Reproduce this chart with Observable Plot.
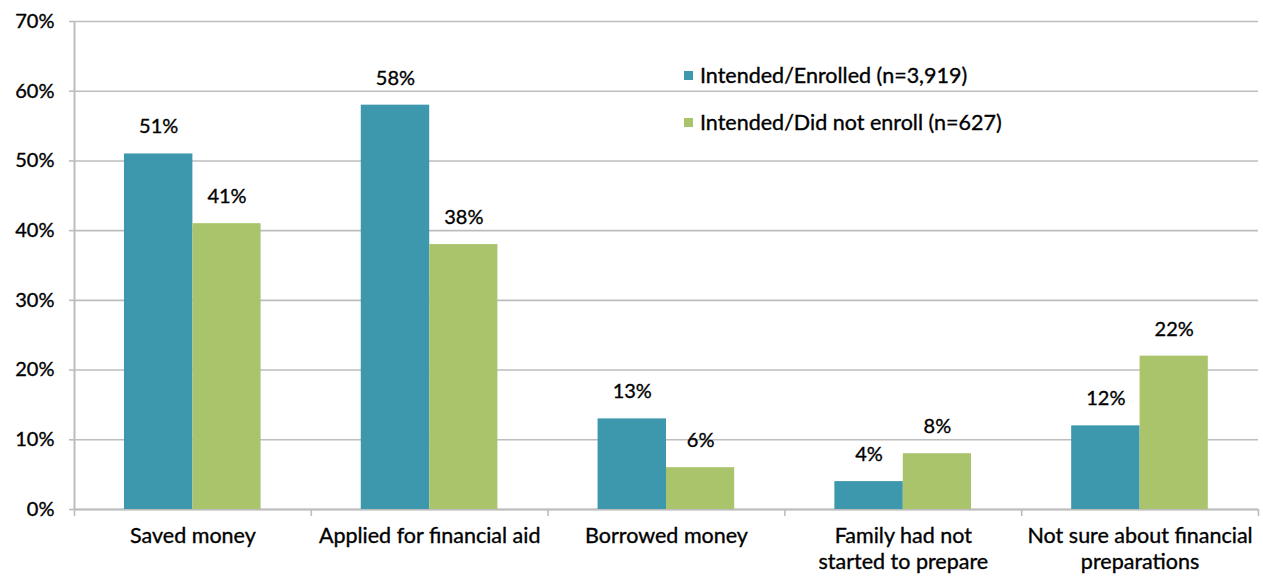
<!DOCTYPE html>
<html>
<head>
<meta charset="utf-8">
<script src="https://cdn.jsdelivr.net/npm/d3@7"></script>
<script src="https://cdn.jsdelivr.net/npm/@observablehq/plot@0.6"></script>
<style>
  html, body { margin: 0; padding: 0; background: #fff; }
  #wrap { position: relative; width: 1263px; height: 576px; font-family: Lato, "Open Sans", sans-serif; }
  #wrap svg text { stroke: #000; stroke-width: 0.35px; }
  .legend { position: absolute; left: 684px; top: 59px; font-size: 21.5px; color: #000; -webkit-text-stroke: 0.35px #000; }
  .legend .item { display: flex; align-items: center; height: 32px; margin-bottom: 15px; }
  .legend .sw { width: 9px; height: 9px; margin-right: 7px; }
</style>
</head>
<body>
<div id="wrap"></div>
<script>
const categories = ["Saved money", "Applied for financial aid", "Borrowed money", "Family had not\nstarted to prepare", "Not sure about financial\npreparations"];
const seriesNames = ["Intended/Enrolled (n=3,919)", "Intended/Did not enroll (n=627)"];
const enrolled = [51, 58, 13, 4, 12];
const notEnrolled = [41, 38, 6, 8, 22];
const yTicks = [0, 10, 20, 30, 40, 50, 60, 70];
const colors = ["#3D98AE", "#A9C46B"];

const rows = [];
categories.forEach((c, i) => {
  rows.push({cat: c, i, s: 0, value: enrolled[i]});
  rows.push({cat: c, i, s: 1, value: notEnrolled[i]});
});
// bar offsets within each category slot
const left = 0.211, mid = 0.5, right = 0.788;
const x1 = d => d.i + (d.s === 0 ? left : mid);
const x2 = d => d.i + (d.s === 0 ? mid : right);
const xc = d => (x1(d) + x2(d)) / 2;

const font = 'Lato, "Open Sans", sans-serif';
const chart = Plot.plot({
  width: 1263,
  height: 576,
  marginLeft: 74,
  marginRight: 5,
  marginTop: 21,
  marginBottom: 67,
  style: {fontFamily: font, fontSize: "19px", color: "#000", background: "#fff"},
  x: {type: "linear", domain: [0, categories.length], axis: null},
  y: {type: "linear", domain: [0, 70], axis: null},
  marks: [
    Plot.gridY(yTicks, {stroke: "#BDBDBD", strokeOpacity: 1, strokeWidth: 1.6}),
    Plot.ruleX([0], {stroke: "#BDBDBD", strokeWidth: 2}),
    Plot.ruleY([0], {stroke: "#BDBDBD", strokeWidth: 2}),
    Plot.axisY(yTicks, {tickSize: 5, tickFormat: d => d + "%", stroke: "#BDBDBD", strokeWidth: 1.6, tickPadding: 15, fontSize: 20, fill: "#000", label: null}),
    Plot.axisX(d3.range(categories.length + 1), {tickSize: 7, tickFormat: () => "", stroke: "#BDBDBD", strokeWidth: 1.6, label: null}),
    Plot.rectY(rows, {x1, x2, y1: 0, y2: "value", fill: d => colors[d.s]}),
    Plot.text(rows, {x: xc, y: "value", text: d => d.value + "%", dy: -27, fontSize: 20, fill: "#000"}),
    Plot.text(categories, {x: (d, i) => i + 0.5, y: 0, text: d => d, dy: 15, lineAnchor: "top", lineHeight: 1.22, fontSize: 21.5, fill: "#000"})
  ]
});
const wrap = document.getElementById("wrap");
wrap.appendChild(chart);

const legend = document.createElement("div");
legend.className = "legend";
seriesNames.forEach((n, k) => {
  const it = document.createElement("div");
  it.className = "item";
  const sw = document.createElement("span");
  sw.className = "sw";
  sw.style.background = colors[k];
  const t = document.createElement("span");
  t.textContent = n;
  it.appendChild(sw); it.appendChild(t);
  legend.appendChild(it);
});
wrap.appendChild(legend);
</script>
</body>
</html>
